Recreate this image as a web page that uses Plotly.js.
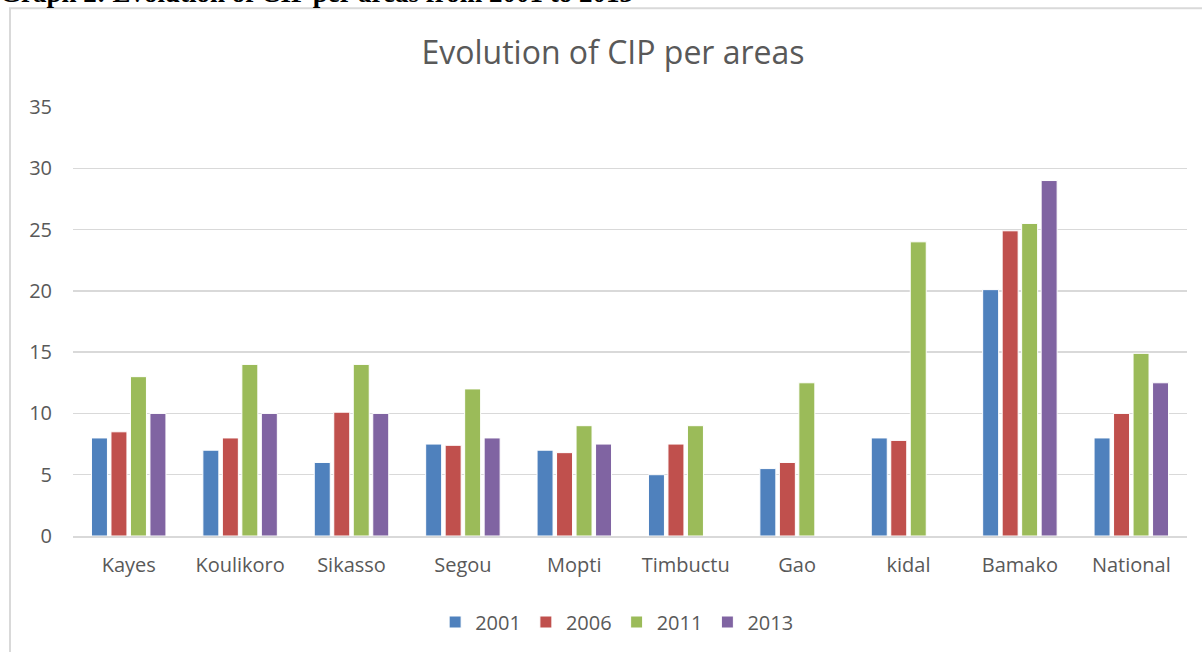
<!DOCTYPE html>
<html>
<head>
<meta charset="utf-8">
<script src="https://cdn.plot.ly/plotly-3.0.1.min.js"></script>
<style>
  html, body { margin: 0; padding: 0; background: #ffffff; }
  #chart { width: 1202px; height: 652px; }
</style>
</head>
<body>
<div id="chart"></div>
<script>
const categories = ["Kayes", "Koulikoro", "Sikasso", "Segou", "Mopti", "Timbuctu", "Gao", "kidal", "Bamako", "National"];
const seriesNames = ["2001", "2006", "2011", "2013"];
const values2001 = [8, 7, 6, 7.5, 7, 5, 5.5, 8, 20.1, 8];
const values2006 = [8.5, 8, 10.1, 7.4, 6.8, 7.5, 6, 7.8, 24.9, 10];
const values2011 = [13, 14, 14, 12, 9, 9, 12.5, 24, 25.5, 14.9];
const values2013 = [10, 10, 10, 8, 7.5, null, null, null, 29, 12.5];
const yTicks = [0, 5, 10, 15, 20, 25, 30, 35];
const chartTitle = "Evolution of CIP per areas";
const headerText = "Graph 2: Evolution of CIP per areas from 2001 to 2013";

const colors = ["#4F81BD", "#C0504D", "#9BBB59", "#8064A2"];
const allValues = [values2001, values2006, values2011, values2013];

const W = 1202, H = 652;
const mL = 73, mR = 15, mT = 107, mB = 115;
const pw = W - mL - mR, ph = H - mT - mB;
const px = x => (x - mL) / pw;
const py = y => (H - mB - y) / ph;

const traces = seriesNames.map((name, i) => ({
  type: "bar",
  name: name,
  x: categories,
  y: allValues[i],
  marker: { color: colors[i], line: { color: "#ffffff", width: 1 } },
  hoverinfo: "x+y+name"
}));

const font = "'Open Sans', 'Noto Sans', sans-serif";

const layout = {
  width: W, height: H,
  margin: { l: mL, r: mR, t: mT, b: mB, pad: 0 },
  paper_bgcolor: "#ffffff",
  plot_bgcolor: "#ffffff",
  barmode: "group",
  bargap: 0.3,
  bargroupgap: 0.18,
  font: { family: font, color: "#595959", size: 20 },
  title: {
    text: chartTitle,
    font: { family: font, size: 32, color: "#595959" },
    x: 0.51, xanchor: "center",
    y: 1 - 53 / H, yanchor: "middle", yref: "container"
  },
  xaxis: {
    type: "category",
    showgrid: false,
    showline: true,
    linecolor: "#d9d9d9",
    linewidth: 2,
    ticks: "",
    tickfont: { family: font, size: 20, color: "#595959" },
    ticklabelstandoff: 10
  },
  yaxis: {
    range: [0, 35],
    tickvals: yTicks,
    ticktext: yTicks.map(String),
    showgrid: true,
    gridcolor: "#d9d9d9",
    gridwidth: 1.5,
    zeroline: false,
    showline: false,
    ticks: "",
    ticklabelstandoff: 20,
    tickfont: { family: font, size: 20, color: "#595959" },
    fixedrange: true
  },
  showlegend: true,
  legend: {
    orientation: "h",
    x: 0.488, xanchor: "center",
    y: py(622), yanchor: "middle",
    font: { family: font, size: 20, color: "#595959" },
    itemwidth: 30,
    traceorder: "normal",
    tracegroupgap: 0
  },
  shapes: [
    {
      type: "rect", xref: "paper", yref: "paper", layer: "below",
      x0: px(10), x1: px(1220), y0: py(8), y1: py(680),
      line: { color: "#d9d9d9", width: 2 }, fillcolor: "rgba(0,0,0,0)"
    }
  ],
  annotations: [
    {
      text: "<b>" + headerText + "</b>",
      xref: "paper", yref: "paper",
      x: px(-2), xanchor: "left",
      y: py(10), yanchor: "bottom",
      showarrow: false,
      font: { family: "'Liberation Serif', 'Times New Roman', serif", size: 27, color: "#000000" }
    }
  ]
};

Plotly.newPlot("chart", traces, layout, { displayModeBar: false, staticPlot: true });
</script>
</body>
</html>
